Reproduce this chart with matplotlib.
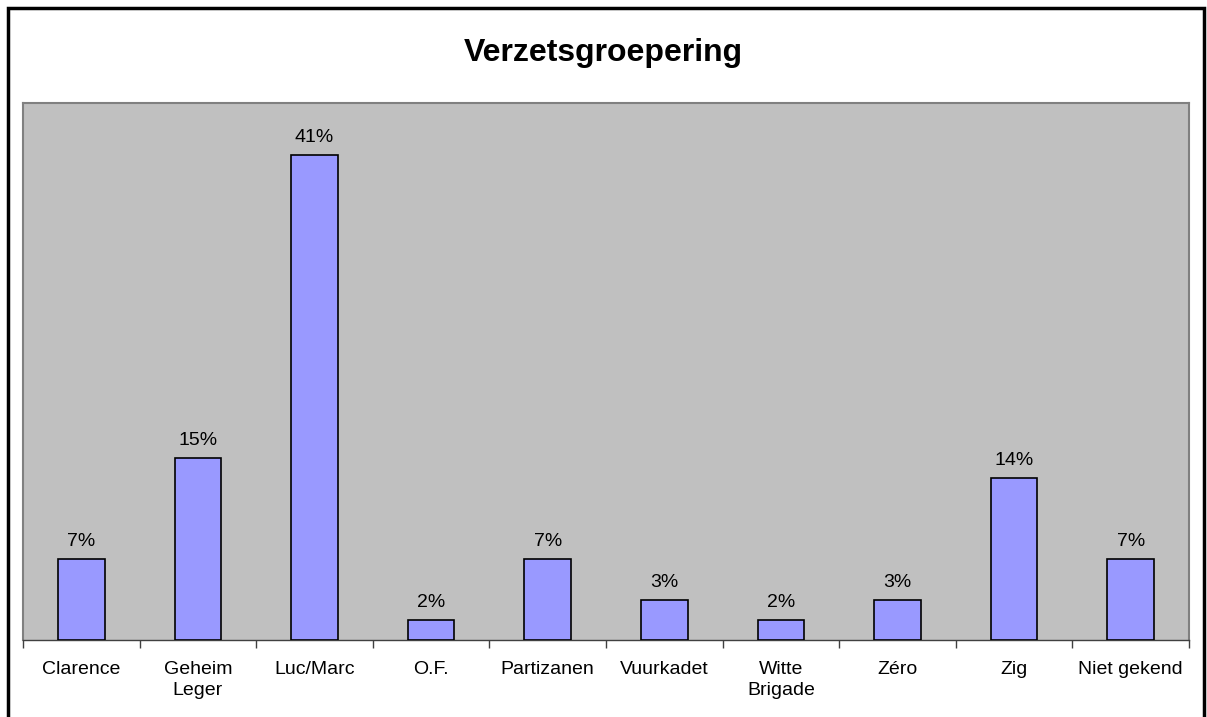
import matplotlib
matplotlib.use("Agg")
import matplotlib.pyplot as plt
from matplotlib.patches import Rectangle

# data: aantal per groepering (totaal 59)
groepen = ["Clarence", "Geheim\nLeger", "Luc/Marc", "O.F.", "Partizanen",
           "Vuurkadet", "Witte\nBrigade", "Zéro", "Zig", "Niet gekend"]
aantallen = [4, 9, 24, 1, 4, 2, 1, 2, 8, 4]
totaal = sum(aantallen)
procent = [a / totaal * 100 for a in aantallen]
labels = ["%d%%" % round(p) for p in procent]

plt.rcParams['font.family'] = ['Liberation Sans', 'DejaVu Sans']

W, H = 1207, 717
fig = plt.figure(figsize=(W / 100, H / 100), dpi=100)

# rand rond de grafiek
fig.add_artist(Rectangle((8 / W, -0.01), (1204 - 8) / W, 1.01 - 8.5 / H,
                         transform=fig.transFigure, fill=False,
                         edgecolor="black", linewidth=2.5))

ax = fig.add_axes([23 / W, 1 - 640 / H, (1189 - 23) / W, (640 - 103) / H])
ax.set_facecolor("#C0C0C0")

x = list(range(len(groepen)))
ax.bar(x, procent, width=0.4, color="#9999FF", edgecolor="black", linewidth=1.2, zorder=3)
for xi, p, lab in zip(x, procent, labels):
    ax.text(xi, p + 0.75, lab, ha="center", va="bottom", fontsize=14)

ax.set_xlim(-0.5, len(groepen) - 0.5)
ax.set_ylim(0, 45)
ax.set_yticks([])
ax.set_xticks(x)
ax.set_xticklabels(groepen, fontsize=14, linespacing=1.35)
ax.tick_params(axis="x", length=0, pad=15)
ax.set_xticks([i - 0.5 for i in range(len(groepen) + 1)], minor=True)
ax.tick_params(axis="x", which="minor", length=6, width=1, color="#404040", direction="out")

for s in ["top", "left", "right"]:
    ax.spines[s].set_color("#808080")
    ax.spines[s].set_linewidth(1.5)
ax.spines["bottom"].set_color("#404040")
ax.spines["bottom"].set_linewidth(1)

fig.text(0.5, 1 - 53 / H, "Verzetsgroepering", ha="center", va="center",
         fontsize=23, fontweight="bold")

fig.savefig("out.png", dpi=100)
